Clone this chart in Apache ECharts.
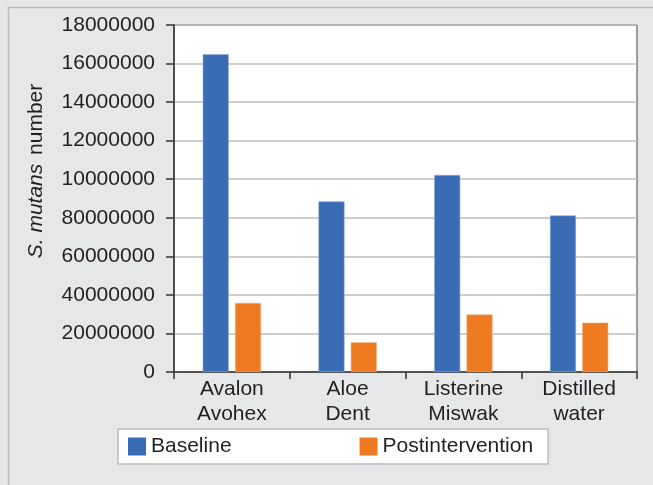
<!DOCTYPE html>
<html><head><meta charset="utf-8">
<script src="https://cdn.jsdelivr.net/npm/echarts@6/dist/echarts.min.js"></script>
<style>html,body{margin:0;padding:0;background:#fff;}#c{width:653px;height:485px;}</style>
</head><body><div id="c"></div>
<script>
var categories = ['Avalon\nAvohex', 'Aloe\nDent', 'Listerine\nMiswak', 'Distilled\nwater'];
var baseline = [16480000, 8850000, 10220000, 8120000];
var postintervention = [3580000, 1540000, 2980000, 2560000];
var yTickLabels = ['0', '20000000', '40000000', '60000000', '80000000', '10000000', '12000000', '14000000', '16000000', '18000000'];
var seriesNames = ['Baseline', 'Postintervention'];

var FONT = '"Liberation Sans", Arial, sans-serif';
var TXT = '#231f20';
var chart = echarts.init(document.getElementById('c'), null, {renderer: 'canvas'});
chart.setOption({
  animation: false,
  backgroundColor: '#e6e7e8',
  textStyle: {fontFamily: FONT},
  graphic: [
    {type: 'rect', left: 6, top: 5, shape: {width: 660, height: 500}, style: {fill: 'none', stroke: '#bcbcbc', lineWidth: 1.5}, silent: true},
    {type: 'text', x: 36, y: 171, rotation: Math.PI / 2, style: {
      text: '{i|S. mutans}{n| number}', align: 'center', verticalAlign: 'middle',
      rich: {i: {fontStyle: 'italic', fontSize: 21, fontFamily: FONT, fill: TXT},
             n: {fontSize: 21, fontFamily: FONT, fill: TXT, padding: [0, 0, 0, 3]}}
    }}
  ],
  grid: {left: 174, right: 16, top: 25, bottom: 113, show: true, backgroundColor: '#ffffff', borderColor: '#444', borderWidth: 1},
  legend: {
    data: seriesNames, left: 118, top: 429, itemWidth: 18, itemHeight: 18, itemGap: 128,
    icon: 'rect', padding: [7, 15, 7, 10],
    itemStyle: {borderWidth: 0},
    backgroundColor: '#ffffff', borderColor: '#bcbcbc', borderWidth: 1.5, borderRadius: 0,
    textStyle: {fontSize: 21, color: TXT, fontFamily: FONT, padding: [0, 0, 0, 0]}
  },
  xAxis: {
    type: 'category', data: categories,
    axisLine: {lineStyle: {color: '#333', width: 1.5}},
    axisTick: {show: true, length: 7, lineStyle: {color: '#333', width: 1.5}},
    axisLabel: {fontSize: 21, color: TXT, lineHeight: 25, margin: 5, fontFamily: FONT}
  },
  yAxis: {
    type: 'value', min: 0, max: 18000000, interval: 2000000,
    axisLine: {show: true, lineStyle: {color: '#333', width: 1.5}},
    axisTick: {show: true, length: 8, lineStyle: {color: '#333', width: 1.5}},
    splitLine: {lineStyle: {color: '#bdbdbd', width: 1.5}},
    axisLabel: {fontSize: 21, color: TXT, margin: 19, fontFamily: FONT,
      formatter: function (v) { return yTickLabels[Math.round(v / 2000000)]; }}
  },
  series: [
    {name: seriesNames[0], type: 'bar', data: baseline, barWidth: '22.5%', barGap: '24%',
     itemStyle: {color: '#3a6bb5', borderColor: '#8fa9d6', borderWidth: 0.6}},
    {name: seriesNames[1], type: 'bar', data: postintervention, barWidth: '22.5%', barGap: '24%',
     itemStyle: {color: '#ee7a22', borderColor: '#f5b07c', borderWidth: 0.6}}
  ]
});
</script></body></html>
